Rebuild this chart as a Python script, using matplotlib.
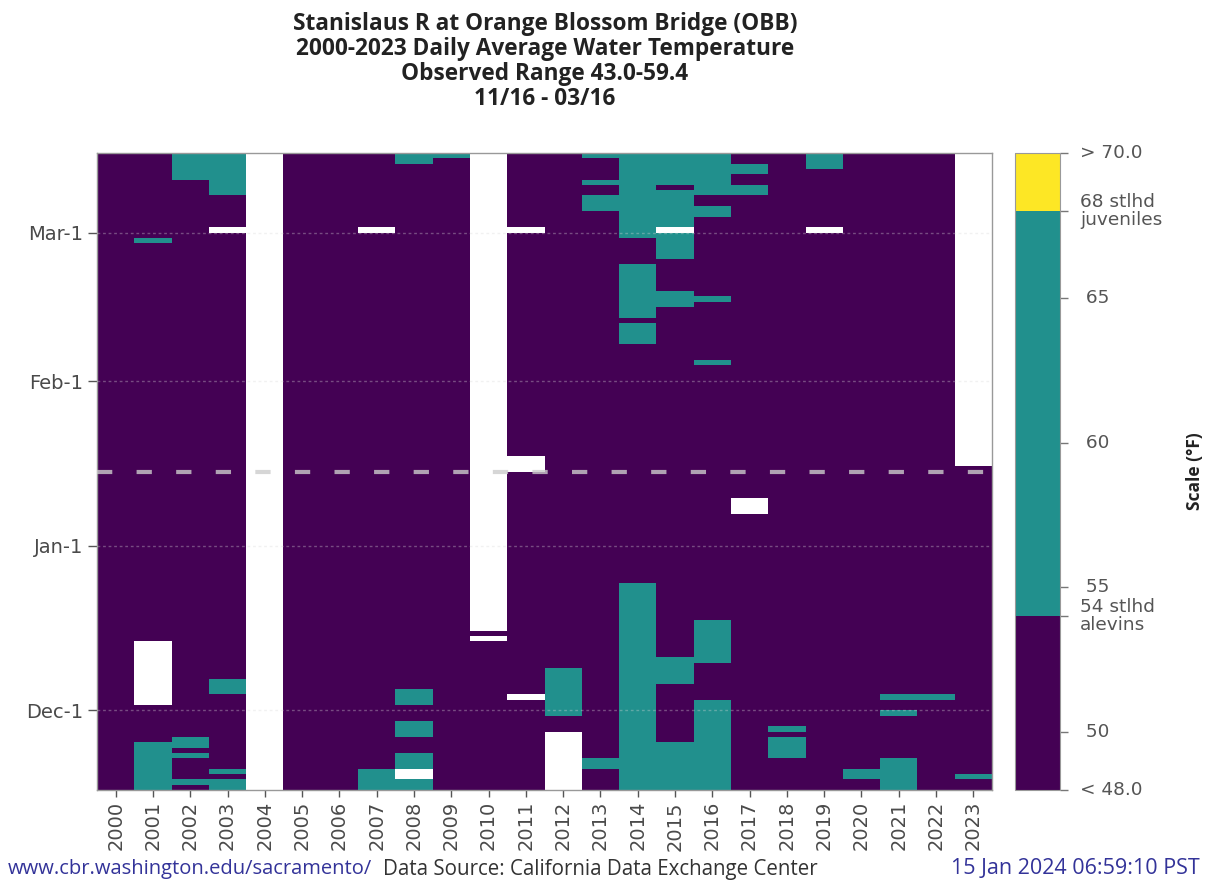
import numpy as np
import matplotlib
matplotlib.use('Agg')
import matplotlib.pyplot as plt
from matplotlib.colors import ListedColormap, BoundaryNorm
from matplotlib.cm import ScalarMappable

plt.rcParams['font.family'] = ['Open Sans', 'DejaVu Sans']
plt.rcParams['lines.scale_dashes'] = False

W, H = 1208, 882

years = list(range(2000, 2024))
n_days = 120  # 11/16 .. 03/15, day 0 = Nov-16

# day index of the 1st of each month (Nov-16 = 0)
month_first = {'Nov': -15, 'Dec': 15, 'Jan': 46, 'Feb': 77, 'Mar': 105}

def day_index(s):
    m, d = s.split('-')
    return month_first[m] + int(d) - 1

# thresholds of the scale (deg F)
scale_bounds = [48, 54, 68, 70]
band_colors = ['#440154', '#21908d', '#fde725']

# days at or above 54 F (season year, first day, last day)
warm_spells = [
    (2001, 'Nov-16', 'Nov-24'), (2001, 'Feb-27', 'Feb-27'),
    (2002, 'Nov-17', 'Nov-17'), (2002, 'Nov-22', 'Nov-22'), (2002, 'Nov-24', 'Nov-25'),
    (2002, 'Mar-11', 'Mar-15'),
    (2003, 'Nov-16', 'Nov-17'), (2003, 'Nov-19', 'Nov-19'), (2003, 'Dec-4', 'Dec-6'),
    (2003, 'Mar-8', 'Mar-15'),
    (2007, 'Nov-16', 'Nov-19'),
    (2008, 'Nov-16', 'Nov-17'), (2008, 'Nov-20', 'Nov-22'), (2008, 'Nov-26', 'Nov-28'),
    (2008, 'Dec-2', 'Dec-4'), (2008, 'Mar-14', 'Mar-15'),
    (2009, 'Mar-15', 'Mar-15'),
    (2012, 'Nov-30', 'Dec-8'),
    (2013, 'Nov-20', 'Nov-21'), (2013, 'Mar-5', 'Mar-7'), (2013, 'Mar-10', 'Mar-10'),
    (2013, 'Mar-15', 'Mar-15'),
    (2014, 'Nov-16', 'Dec-24'), (2014, 'Feb-8', 'Feb-11'), (2014, 'Feb-13', 'Feb-22'),
    (2014, 'Feb-28', 'Mar-15'),
    (2015, 'Nov-16', 'Nov-24'), (2015, 'Dec-6', 'Dec-10'), (2015, 'Feb-15', 'Feb-17'),
    (2015, 'Feb-24', 'Feb-28'), (2015, 'Mar-2', 'Mar-8'), (2015, 'Mar-10', 'Mar-15'),
    (2016, 'Nov-16', 'Dec-2'), (2016, 'Dec-10', 'Dec-17'), (2016, 'Feb-4', 'Feb-4'),
    (2016, 'Feb-16', 'Feb-16'), (2016, 'Mar-4', 'Mar-5'), (2016, 'Mar-8', 'Mar-15'),
    (2017, 'Mar-8', 'Mar-9'), (2017, 'Mar-12', 'Mar-13'),
    (2018, 'Nov-22', 'Nov-25'), (2018, 'Nov-27', 'Nov-27'),
    (2019, 'Mar-13', 'Mar-15'),
    (2020, 'Nov-18', 'Nov-19'),
    (2021, 'Nov-16', 'Nov-21'), (2021, 'Nov-30', 'Nov-30'), (2021, 'Dec-3', 'Dec-3'),
    (2022, 'Dec-3', 'Dec-3'),
    (2023, 'Nov-18', 'Nov-18'),
]

# days with no data
missing_spells = [
    (2001, 'Dec-2', 'Dec-13'),
    (2003, 'Mar-1', 'Mar-1'), (2007, 'Mar-1', 'Mar-1'), (2011, 'Mar-1', 'Mar-1'),
    (2015, 'Mar-1', 'Mar-1'), (2019, 'Mar-1', 'Mar-1'),
    (2004, 'Nov-16', 'Mar-15'),
    (2008, 'Nov-18', 'Nov-19'),
    (2010, 'Dec-14', 'Dec-14'), (2010, 'Dec-16', 'Mar-15'),
    (2011, 'Dec-3', 'Dec-3'), (2011, 'Jan-15', 'Jan-17'),
    (2012, 'Nov-16', 'Nov-26'),
    (2017, 'Jan-7', 'Jan-9'),
    (2023, 'Jan-16', 'Mar-15'),
]

ytick_labels = ['Dec-1', 'Jan-1', 'Feb-1', 'Mar-1']
today_mark = 'Jan-15'

cb_ticks = [48, 50, 54, 55, 60, 65, 68, 70]
cb_labels = ['< 48.0', ' 50', '54 stlhd\nalevins', ' 55', ' 60', ' 65',
             '68 stlhd\njuveniles', '> 70.0']

title_lines = ['Stanislaus R at Orange Blossom Bridge (OBB)',
               '2000-2023 Daily Average Water Temperature',
               'Observed Range 43.0-59.4',
               '11/16 - 03/16']

# band index per day: 0 below 54, 1 from 54 to 68, 2 above 68
band = np.zeros((n_days, len(years)))
for yr, a, b in warm_spells:
    band[day_index(a):day_index(b) + 1, years.index(yr)] = 1
for yr, a, b in missing_spells:
    band[day_index(a):day_index(b) + 1, years.index(yr)] = np.nan
band = np.ma.masked_invalid(band)

cmap = ListedColormap(band_colors)

fig = plt.figure(figsize=(W / 100, H / 100), dpi=100)
ax = fig.add_axes([97 / W, 1 - 790 / H, 895 / W, 637 / H])
ax.set_facecolor('white')

xe = np.arange(len(years) + 1) - 0.5
ye = np.arange(n_days + 1)
ax.pcolormesh(xe, ye, band, cmap=cmap,
              norm=BoundaryNorm([-0.5, 0.5, 1.5, 2.5], 3), zorder=1)

ax.set_xlim(-0.5, len(years) - 0.5)
ax.set_ylim(0, n_days)

tick_font = dict(family='DejaVu Sans', size=14)
yt = [day_index(s) for s in ytick_labels]
ax.set_yticks(yt)
ax.set_yticklabels(ytick_labels, fontdict=tick_font)
ax.set_xticks(range(len(years)))
ax.set_xticklabels([str(y) for y in years], rotation=90, va='top',
                   fontdict=tick_font)
ax.tick_params(axis='both', colors='#555555', labelcolor='#4a4a4a',
               width=1, direction='out')
ax.tick_params(axis='y', length=6.5, pad=3.5)
ax.tick_params(axis='x', length=5, pad=3)

for yv in yt:
    ax.axhline(yv, color='#d8d8d8', lw=1, ls=(0, (2, 2)), alpha=0.35, zorder=3)

ax.axhline(day_index(today_mark), color='#cccccc', lw=3, alpha=0.8,
           ls=(0, (11, 17.5)), zorder=4)

for sp in ax.spines.values():
    sp.set_color('#999999')
    sp.set_linewidth(1)

# colour bar
cax = fig.add_axes([1015 / W, 1 - 790 / H, 45 / W, 637 / H])
sm = ScalarMappable(norm=BoundaryNorm(scale_bounds, 3), cmap=cmap)
cb = fig.colorbar(sm, cax=cax, spacing='proportional', ticks=cb_ticks)
cb.ax.set_yticklabels(cb_labels, family='DejaVu Sans', size=13.3,
                      linespacing=1.0)
for t in cb.ax.get_yticklabels():
    t.set_verticalalignment('center')
cb.ax.tick_params(colors='#777777', labelcolor='#555555',
                  length=5.8, width=1, pad=8.6)
cb.outline.set_edgecolor('#999999')

fig.text(1195 / W, 1 - 471 / H, 'Scale (°F)', rotation=90, ha='center',
         va='center', fontsize=12.5, fontweight='bold', color='#222222')

for i, line in enumerate(title_lines):
    fig.text(545 / W, 1 - (24 + 25 * i) / H, line, ha='center', va='center',
             fontsize=16.3, fontweight='bold', color='#222222')

fig.text(8 / W, 1 - 869 / H, 'www.cbr.washington.edu/sacramento/',
         ha='left', va='center', fontsize=14.5, color='#333399')
fig.text(383 / W, 1 - 869 / H, 'Data Source: California Data Exchange Center',
         ha='left', va='center', fontsize=14.8, color='#333333')
fig.text(1200 / W, 1 - 869 / H, '15 Jan 2024 06:59:10 PST',
         ha='right', va='center', fontsize=15.5, color='#333399')

fig.savefig('out.png', dpi=100)
